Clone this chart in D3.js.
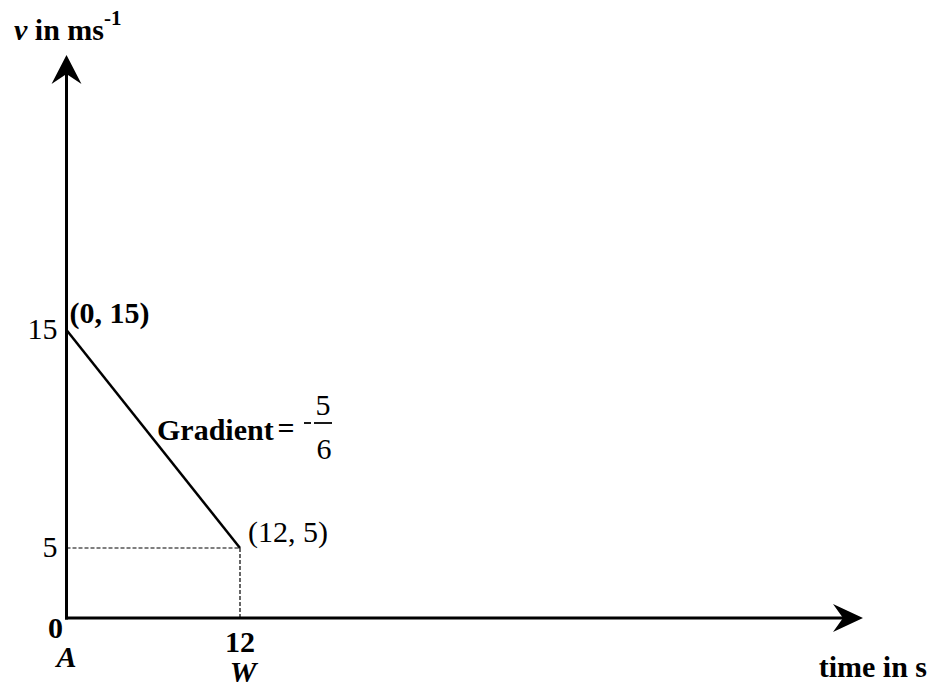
<!DOCTYPE html>
<html>
<head>
<meta charset="utf-8">
<script src="https://cdn.jsdelivr.net/npm/d3@7"></script>
<style>
  html, body { margin: 0; padding: 0; background: #fff; }
  #chart text { font-family: "Liberation Serif", "Tinos", "Times New Roman", Times, "DejaVu Serif", serif; }
</style>
</head>
<body>
<svg id="chart" width="933" height="687"></svg>
<script>
// Velocity-time sketch: velocity falls linearly from 15 to 5 m/s over 12 s
const timePoints = [0, 12];
const velocityPoints = [15, 5];
const xTickValues = [12];
const yTickValues = [5, 15];
const pointLabels = ["(0, 15)", "(12, 5)"];
const xMarkLabels = [{ t: 0, label: "A" }, { t: 12, label: "W" }];

const FONT = 30;
const svg = d3.select("#chart");

// Sketch is not to scale vertically, so a piecewise scale keeps the marked levels in place
const x = d3.scaleLinear().domain([0, 12]).range([66.5, 240]);
const y = d3.scaleLinear().domain([0, 5, 15]).range([618, 548, 330]);

const xEnd = 863, yTop = 55;
const x0 = x(0), y0 = y(0);

// axes
svg.append("line").attr("x1", x0).attr("y1", y0 + 1.5).attr("x2", x0).attr("y2", yTop + 14)
  .attr("stroke", "#000").attr("stroke-width", 3);
svg.append("line").attr("x1", x0 - 1.5).attr("y1", y0).attr("x2", xEnd - 14).attr("y2", y0)
  .attr("stroke", "#000").attr("stroke-width", 3);

// arrow heads
svg.append("path")
  .attr("d", `M${x0},${yTop} L${x0 + 15},${yTop + 29} L${x0},${yTop + 19} L${x0 - 15},${yTop + 29} Z`)
  .attr("fill", "#000");
svg.append("path")
  .attr("d", `M${xEnd},${y0} L${xEnd - 30},${y0 - 14} L${xEnd - 20},${y0} L${xEnd - 30},${y0 + 14} Z`)
  .attr("fill", "#000");

const pts = timePoints.map((t, i) => [t, velocityPoints[i]]);
const last = pts[pts.length - 1];

// dashed guides to the end point
svg.append("line").attr("x1", x0).attr("y1", y(last[1])).attr("x2", x(last[0])).attr("y2", y(last[1]))
  .attr("stroke", "#000").attr("stroke-width", 1.2).attr("stroke-dasharray", "4,2");
svg.append("line").attr("x1", x(last[0])).attr("y1", y(last[1])).attr("x2", x(last[0])).attr("y2", y0)
  .attr("stroke", "#000").attr("stroke-width", 1.2).attr("stroke-dasharray", "4,2");

// the velocity line
svg.append("path")
  .datum(pts)
  .attr("d", d3.line().x(d => x(d[0])).y(d => y(d[1])))
  .attr("fill", "none").attr("stroke", "#000").attr("stroke-width", 2.5);

// y tick labels
svg.selectAll(".ytick").data(yTickValues).enter().append("text")
  .attr("x", x0 - 9).attr("y", d => y(d) + 9)
  .attr("text-anchor", "end").attr("font-size", FONT).text(d => d);

// origin label
svg.append("text").attr("x", x0 - 11).attr("y", y0 + 20)
  .attr("text-anchor", "middle").attr("font-size", FONT).attr("font-weight", "bold").text("0");

// x tick labels
svg.selectAll(".xtick").data(xTickValues).enter().append("text")
  .attr("x", d => x(d)).attr("y", y0 + 34)
  .attr("text-anchor", "middle").attr("font-size", FONT).attr("font-weight", "bold").text(d => d);

// point labels
svg.selectAll(".plabel").data(pts).enter().append("text")
  .attr("x", d => x(d[0]) + (d[0] === 0 ? 3 : 8))
  .attr("y", d => y(d[1]) + (d[0] === 0 ? -7 : -6))
  .attr("font-size", FONT).attr("font-weight", d => d[0] === 0 ? "bold" : "normal")
  .text((d, i) => pointLabels[i]);

// point names under the time axis
svg.selectAll(".mark").data(xMarkLabels).enter().append("text")
  .attr("x", d => x(d.t) + (d.t === 0 ? 0 : 3))
  .attr("y", d => d.t === 0 ? y0 + 49 : y0 + 64)
  .attr("text-anchor", "middle").attr("font-size", FONT)
  .attr("font-style", "italic").attr("font-weight", "bold")
  .text(d => d.label);

// axis titles
const yTitle = svg.append("text").attr("x", 14).attr("y", 40).attr("font-size", FONT).attr("font-weight", "bold");
yTitle.append("tspan").attr("font-style", "italic").text("v");
yTitle.append("tspan").text(" in ms");
yTitle.append("tspan").attr("dy", -15).attr("font-size", 21).text("-1");

svg.append("text").attr("x", 927).attr("y", 677).attr("text-anchor", "end")
  .attr("font-size", FONT).attr("font-weight", "bold").text("time in s");

// gradient annotation
svg.append("text").attr("x", 157).attr("y", 440).attr("font-size", FONT).attr("font-weight", "bold").text("Gradient");
svg.append("text").attr("x", 286).attr("y", 438).attr("text-anchor", "middle").attr("font-size", FONT).attr("font-weight", "bold").text("=");
svg.append("line").attr("x1", 304).attr("x2", 311).attr("y1", 423).attr("y2", 423)
  .attr("stroke", "#000").attr("stroke-width", 1.8);
svg.append("text").attr("x", 323).attr("y", 415).attr("text-anchor", "middle").attr("font-size", FONT).text("5");
svg.append("line").attr("x1", 314).attr("x2", 332).attr("y1", 423).attr("y2", 423)
  .attr("stroke", "#000").attr("stroke-width", 1.8);
svg.append("text").attr("x", 324).attr("y", 459).attr("text-anchor", "middle").attr("font-size", FONT).text("6");
</script>
</body>
</html>
